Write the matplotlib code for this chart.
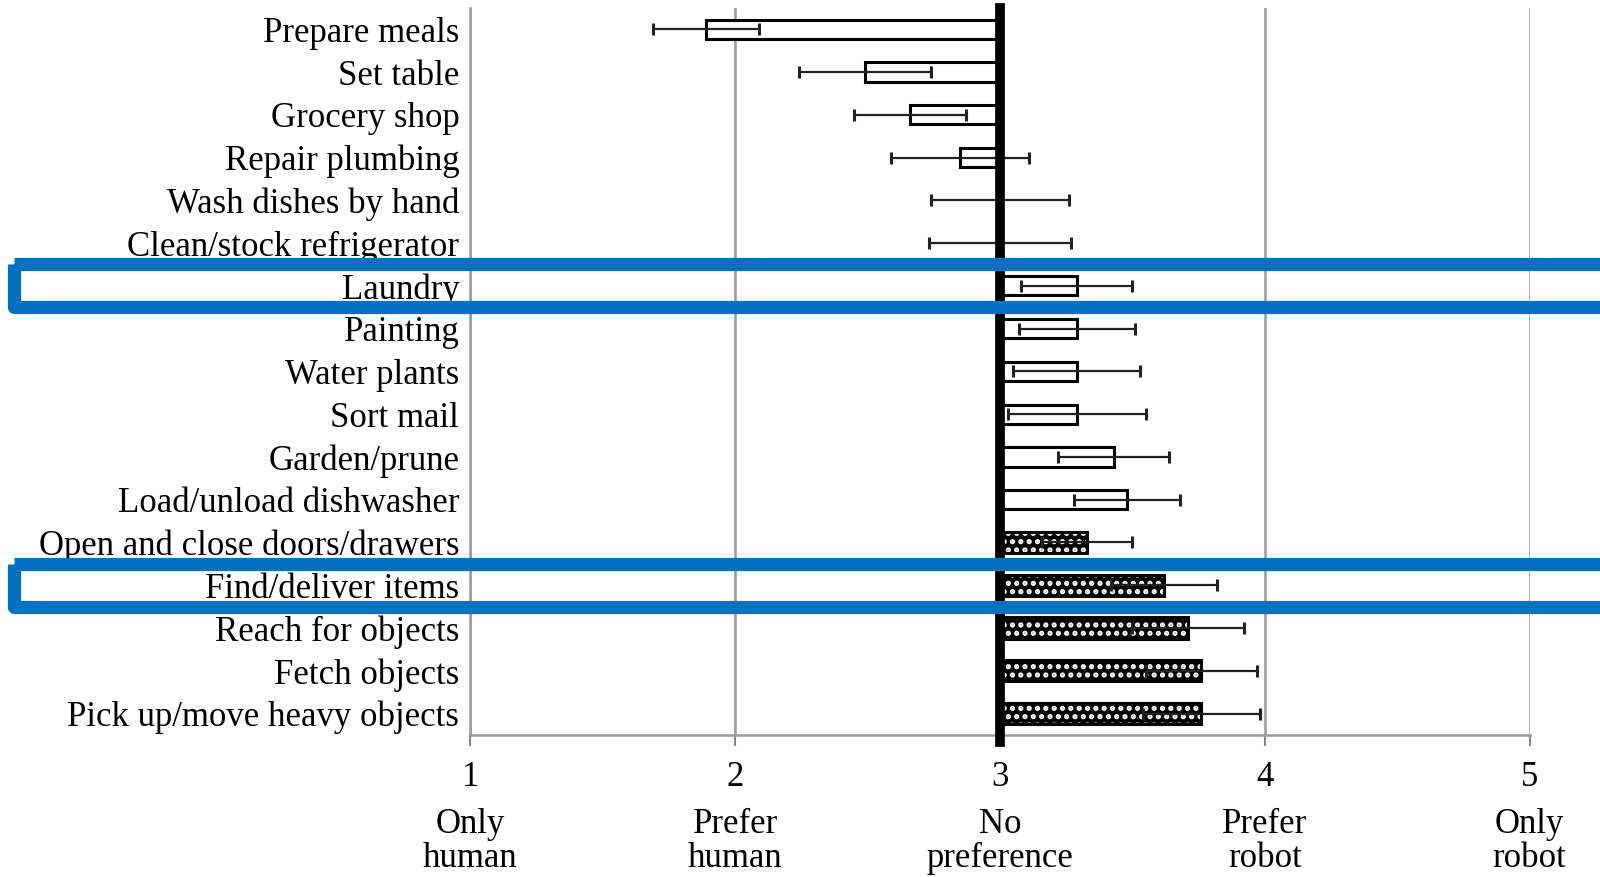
#!/usr/bin/env python

import matplotlib
import matplotlib.pyplot as plt
import numpy as np
from matplotlib.patches import Rectangle
from matplotlib.transforms import blended_transform_factory

matplotlib.rcParams["font.family"] = ["Liberation Serif", "DejaVu Serif"]
matplotlib.rcParams["hatch.linewidth"] = 2.5

tasks = [
    "Prepare meals", "Set table", "Grocery shop", "Repair plumbing",
    "Wash dishes by hand", "Clean/stock refrigerator", "Laundry", "Painting",
    "Water plants", "Sort mail", "Garden/prune", "Load/unload dishwasher",
    "Open and close doors/drawers", "Find/deliver items", "Reach for objects",
    "Fetch objects", "Pick up/move heavy objects",
]
means = [1.89, 2.49, 2.66, 2.85, 3.0, 3.0, 3.29, 3.29, 3.29, 3.29, 3.43,
         3.48, 3.33, 3.62, 3.71, 3.76, 3.76]
errs = [0.20, 0.25, 0.21, 0.26, 0.26, 0.27, 0.21, 0.22, 0.24, 0.26, 0.21,
        0.20, 0.17, 0.20, 0.21, 0.21, 0.22]
hatched = [False] * 12 + [True] * 5
highlighted = ["Laundry", "Find/deliver items"]

scale_ticks = [1, 2, 3, 4, 5]
scale_names = ["Only\nhuman", "Prefer\nhuman", "No\npreference",
               "Prefer\nrobot", "Only\nrobot"]

FS = 25


def main():
    fig = plt.figure(figsize=(16, 8.77), dpi=100)
    ax = fig.add_axes([0.294, 0.162, 0.662, 0.829])

    y = np.arange(len(tasks))
    means_a = np.array(means)
    widths = means_a - 3

    for yi, w, h in zip(y, widths, hatched):
        if h:
            ax.barh(yi, w, left=3, height=0.5, color="black",
                    edgecolor="white", hatch="..", linewidth=0, zorder=2)
            ax.barh(yi, w, left=3, height=0.5, color="none",
                    edgecolor="black", linewidth=2.2, zorder=3)
        else:
            ax.barh(yi, w, left=3, height=0.45, color="white",
                    edgecolor="black", linewidth=2.2, zorder=2)

    ax.errorbar(means_a, y, xerr=errs, fmt="none", ecolor="#222222",
                elinewidth=1.6, capsize=4, capthick=2.2, zorder=4)

    ax.axvline(3, ymin=-0.01, ymax=1, color="black", linewidth=7,
               zorder=5, clip_on=False)

    ax.set_xlim(1, 5)
    ax.set_ylim(len(tasks) - 0.5, -0.5)
    ax.set_yticks(y)
    ax.set_yticklabels(tasks, fontsize=FS)
    ax.tick_params(axis="y", length=0, pad=8)
    ax.set_xticks(scale_ticks)
    ax.set_xticklabels([str(t) for t in scale_ticks], fontsize=FS)
    ax.tick_params(axis="x", direction="out", length=8, width=1.5,
                   color="#888888", pad=11)
    ax.grid(axis="x", color="#999999", linewidth=1.8)
    ax.set_axisbelow(True)

    for side in ["top", "right"]:
        ax.spines[side].set_visible(False)
    for side in ["left", "bottom"]:
        ax.spines[side].set_color("#999999")
        ax.spines[side].set_linewidth(1.8)

    xt = ax.get_xaxis_transform()
    for t, name in zip(scale_ticks, scale_names):
        ax.text(t, -0.147, name, transform=xt, ha="center", va="center",
                fontsize=FS, linespacing=1.04)

    # blue highlight boxes (x in figure fraction, y in data units)
    tr = blended_transform_factory(fig.transFigure, ax.transData)
    for name in highlighted:
        yi = tasks.index(name)
        box = Rectangle((0.009, yi - 0.5), 1.1, 1.0, transform=tr,
                        fill=False, edgecolor="#0070C0", linewidth=9.5,
                        joinstyle="round", clip_on=False, zorder=10)
        fig.add_artist(box)

    fig.savefig("out.png", dpi=100)


if __name__ == "__main__":
    main()
